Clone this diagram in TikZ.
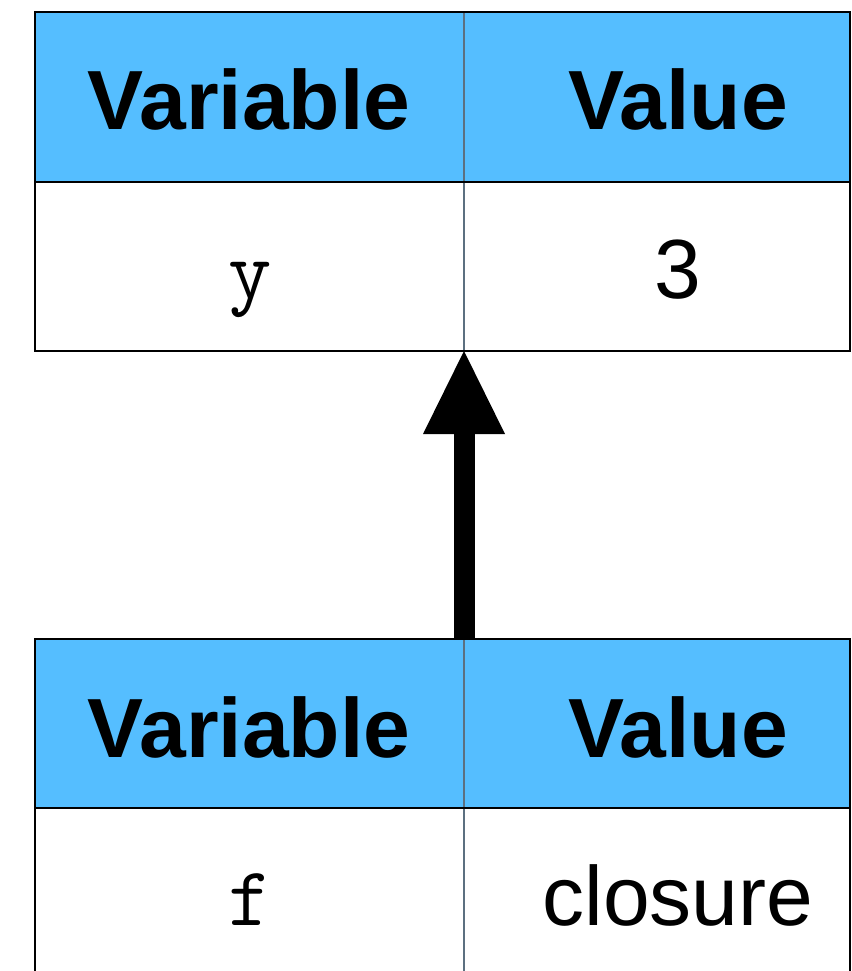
\documentclass[tikz,border=0pt]{standalone}
\usepackage{fontspec}
\setmainfont{Liberation Sans}
\usetikzlibrary{arrows.meta}
\definecolor{hdrblue}{RGB}{85,190,255}
\definecolor{divgray}{RGB}{92,112,128}
\begin{document}
\begin{tikzpicture}[x=1pt,y=-1pt,
  frameline/.style={draw=black,line width=2.4pt},
  divider/.style={draw=divgray,line width=2.2pt},
  lbl/.style={anchor=base,inner sep=0pt,font=\fontsize{84}{96}\selectfont},
  hlbl/.style={anchor=base,inner sep=0pt,font=\fontsize{84}{96}\selectfont\bfseries},
  code/.style={anchor=base,inner sep=0pt,font=\fontsize{84}{96}\selectfont\ttfamily},
  bigarrow/.style={line width=21pt,-{Triangle[width=82pt,length=83pt,line width=0pt]}},
]
\useasboundingbox (0,0) rectangle (851,971);
\clip (0,0) rectangle (851,971);
% top table
\fill[hdrblue] (35,12) rectangle (850,182);
\draw[divider] (464,12) -- (464,351);
\draw[frameline] (35,182) -- (850,182);
\draw[frameline] (35,12) rectangle (850,351);
% bottom table
\fill[hdrblue] (35,639) rectangle (850,808);
\draw[divider] (464,639) -- (464,990);
\draw[frameline] (35,808) -- (850,808);
\draw[frameline] (35,990) -- (35,639) -- (850,639) -- (850,990);
% texts
\node[hlbl] (var1) at (249,130) {Variable};
\node[hlbl] (val1) at (678,130) {Value};
\node[code] (ycell) at (250,298) {y};
\node[lbl] (three) at (678,298) {3};
\node[hlbl] (var2) at (249,757) {Variable};
\node[hlbl] (val2) at (678,757) {Value};
\node[code] (fcell) at (250,925) {f};
\node[lbl] (clos) at (678,925) {closure};
% arrow
\coordinate (tip) at (464,351);
\coordinate (tail) at (464,639);
\draw[bigarrow] (tail) -- (tip);
\end{tikzpicture}
\end{document}
